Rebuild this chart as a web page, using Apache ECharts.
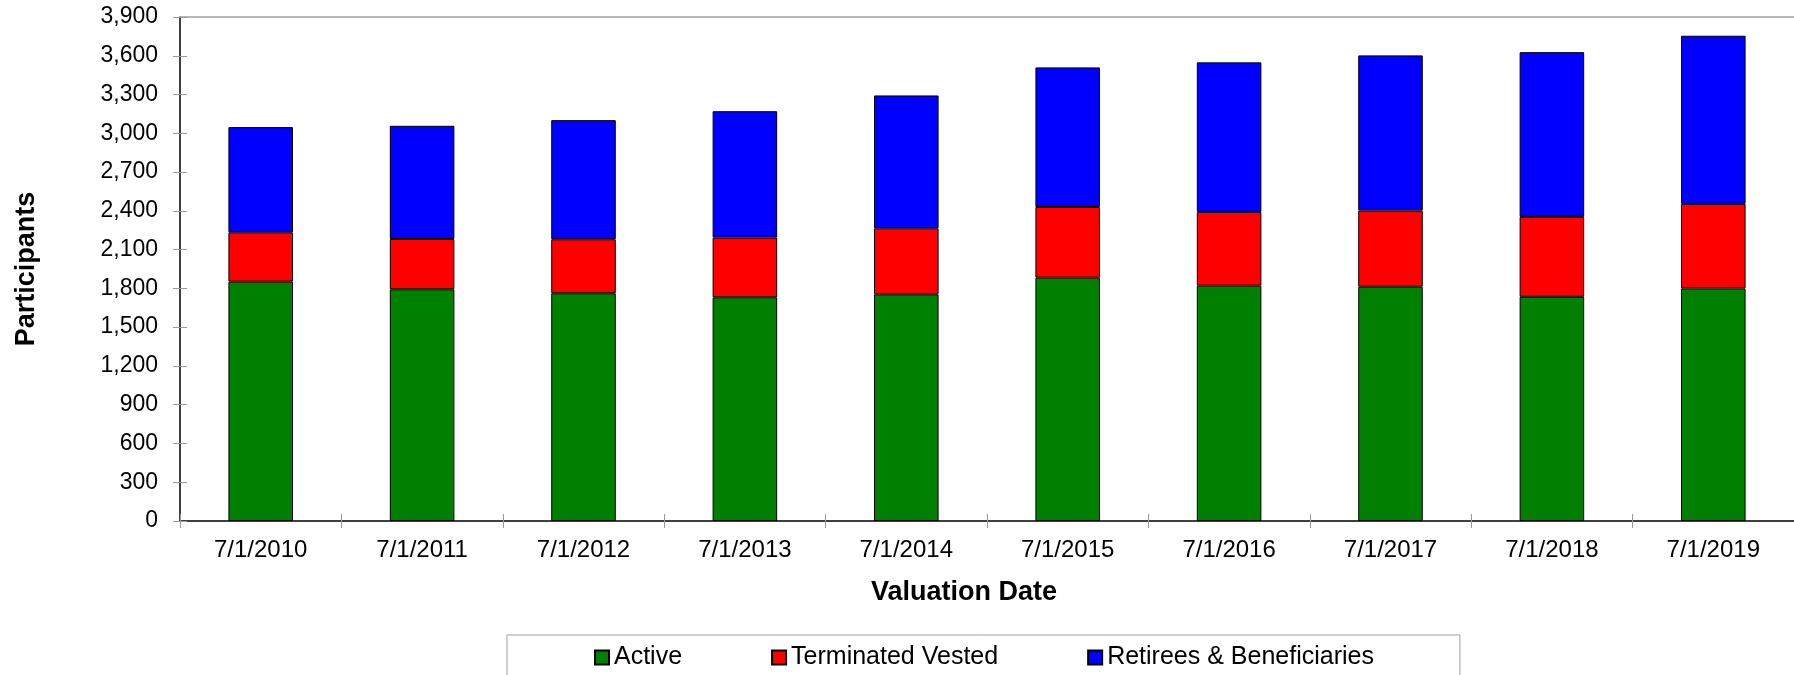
<!DOCTYPE html>
<html>
<head>
<meta charset="utf-8">
<script src="https://cdn.jsdelivr.net/npm/echarts@6/dist/echarts.min.js"></script>
<style>
  html, body { margin: 0; padding: 0; background: #fff; }
  #chart { width: 1794px; height: 675px; }
</style>
</head>
<body>
<div id="chart"></div>
<script>
// valuation dates
const categories = ['7/1/2010', '7/1/2011', '7/1/2012', '7/1/2013', '7/1/2014',
  '7/1/2015', '7/1/2016', '7/1/2017', '7/1/2018', '7/1/2019'];
// participant counts
const active = [1852, 1793, 1762, 1731, 1754, 1883, 1821, 1813, 1735, 1800];
const terminatedVested = [382, 389, 418, 462, 511, 547, 571, 589, 618, 654];
const retirees = [814, 876, 922, 978, 1028, 1080, 1157, 1201, 1275, 1301];

const yMin = 0, yMax = 3900, yStep = 300;
const FONT = '"Liberation Sans", Arial, sans-serif';

const chart = echarts.init(document.getElementById('chart'));

function barSeries(name, data, color) {
  return {
    name: name,
    type: 'bar',
    stack: 'total',
    data: data,
    barWidth: '40%',
    itemStyle: { color: color, borderColor: '#000', borderWidth: 1 }
  };
}

// extra axis that only draws ticks pointing into the plot
function tickOnlyX(position, showLine) {
  return {
    type: 'category',
    data: categories,
    position: position,
    axisLine: { show: showLine, lineStyle: { color: '#a0a0a0', width: 1.5 } },
    axisTick: { show: !showLine, inside: true, length: 7, lineStyle: { color: '#999' } },
    axisLabel: { show: false },
    splitLine: { show: false }
  };
}

const option = {
  animation: false,
  textStyle: { fontFamily: FONT },
  grid: { left: 180, top: 17, right: 0, bottom: 154 },
  legend: {
    left: 507, top: 635,
    padding: [10, 86, 30, 87],
    borderColor: '#a0a0a0', borderWidth: 1,
    itemWidth: 14, itemHeight: 14, itemGap: 89,
    icon: 'rect',
    textStyle: { fontSize: 25, color: '#000', fontFamily: FONT },
    data: ['Active', 'Terminated Vested', 'Retirees & Beneficiaries']
  },
  xAxis: [{
    type: 'category',
    data: categories,
    name: 'Valuation Date',
    nameLocation: 'middle',
    nameGap: 58,
    nameTextStyle: { fontSize: 27, fontWeight: 'bold', color: '#000', padding: [0, 46, 0, 0] },
    axisLine: { lineStyle: { color: '#000', width: 1.5 } },
    axisTick: { show: true, length: 7, lineStyle: { color: '#999' } },
    axisLabel: { fontSize: 24, color: '#000', margin: 17 },
    splitLine: { show: false }
  },
  tickOnlyX('bottom', false),
  tickOnlyX('top', true)],
  yAxis: [{
    type: 'value',
    min: yMin, max: yMax, interval: yStep,
    name: 'Participants',
    nameLocation: 'middle',
    nameGap: 140,
    nameTextStyle: { fontSize: 27, fontWeight: 'bold', color: '#000' },
    axisLine: { show: true, lineStyle: { color: '#000', width: 1.5 } },
    axisTick: { show: true, length: 7, lineStyle: { color: '#999' } },
    axisLabel: {
      fontSize: 23, color: '#000', margin: 22,
      formatter: v => v.toLocaleString('en-US')
    },
    splitLine: { show: false }
  }, {
    type: 'value',
    min: yMin, max: yMax, interval: yStep,
    position: 'left',
    axisLine: { show: false },
    axisTick: { show: true, inside: true, length: 7, lineStyle: { color: '#999' } },
    axisLabel: { show: false },
    splitLine: { show: false }
  }],
  series: [
    barSeries('Active', active, '#008000'),
    barSeries('Terminated Vested', terminatedVested, '#ff0000'),
    barSeries('Retirees & Beneficiaries', retirees, '#0000ff')
  ]
};

chart.setOption(option);
</script>
</body>
</html>
